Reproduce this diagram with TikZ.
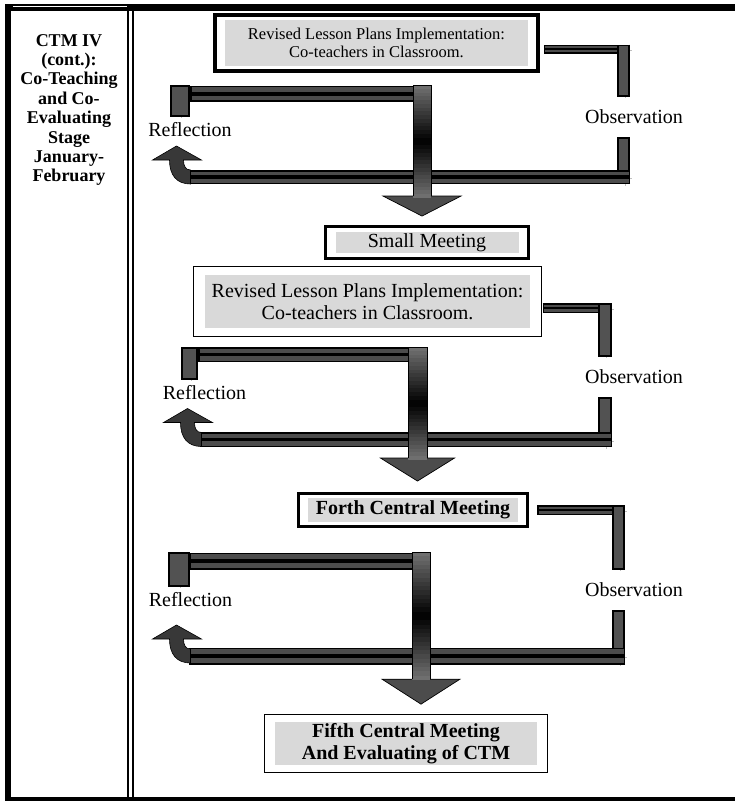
\documentclass[tikz,border=0pt]{standalone}
\usepackage{fontspec}
\setmainfont{Liberation Serif}
\usetikzlibrary{fit,calc,positioning}

\newcommand{\stagefont}{\fontsize{18}{19.4}\selectfont\bfseries}
\newcommand{\smallboxfont}{\fontsize{16.5}{18}\selectfont}
\newcommand{\boxfont}{\fontsize{20}{22.5}\selectfont}
% shaded shaft of the big down arrow: x, top y, bottom y, half width
\newcommand{\shaftstrips}[4]{%
  \foreach \i in {0,...,29} {
    \pgfmathsetmacro{\shadeval}{100-45*abs(2*(\i+0.5)/30-1)}
    \fill [black!\shadeval] ({#1-#4},{#2+(#3-#2)*\i/30}) rectangle ({#1+#4},{#2+(#3-#2)*(\i+1)/30+0.3});
  }}

\tikzset{
  greybox/.style={fill=black!15, inner sep=0pt, align=center},
  thickframe/.style={draw=black, line width=3.5pt},
  thinframe/.style={draw=black, line width=1.3pt},
  looplabel/.style={font=\boxfont, inner sep=0pt},
  tube/.style={draw=black, line width=#1pt,
    preaction={draw=black!25, transform canvas={shift={(1.5pt,-1.5pt)}}},
    postaction={draw=black!70, line width=#1pt-3pt, shorten <=1.5pt, shorten >=1.5pt},
    postaction={draw=black, line width=#1pt*0.25, shorten <=1.5pt, shorten >=1.5pt}},
  tubeV/.style={draw=black, line width=#1pt,
    preaction={draw=black!25, transform canvas={shift={(1.5pt,-1.5pt)}}},
    postaction={draw=black!68, line width=#1pt-4pt, shorten <=1.5pt, shorten >=1.5pt}},
  arrowhead/.style={fill=black!70, draw=black, line width=0.7pt},
  shaftline/.style={draw=black, line width=0.7pt},
  backarrow/.pic={
    \filldraw[fill=black!78, draw=black, line width=0.6pt]
      (-7,-17) .. controls (-7,-2) and (0,7) .. (14,7) -- (14,-7)
      .. controls (9,-7) and (7,-11) .. (7,-17) -- (25,-17) -- (0,-31)
      -- (-24,-17) -- cycle;
  }
}

\begin{document}
\begin{tikzpicture}[x=1pt,y=-1pt]
    \useasboundingbox (0,0) rectangle (735,801);
    % outer frame and stage column
    \fill (5,4) rectangle (735,11);
    \fill (5,4) rectangle (11,801);
    \fill (5,797) rectangle (735,801);
    \draw [white, line width=0.8pt] (13,6.8) -- (127,6.8);
    \draw [line width=2pt] (128,11) -- (128,797);
    \draw [line width=2pt] (133,11) -- (133,797);
    \node [font=\stagefont, align=center] (stage) at (69,110)
        {CTM IV\\(cont.):\\Co-Teaching\\and Co-\\Evaluating\\Stage\\January-\\February};

    % boxes
    \node [greybox, minimum width=303pt, minimum height=46pt, font=\smallboxfont] (impA) at (376.5,43)
        {Revised Lesson Plans Implementation:\\Co-teachers in Classroom.};
    \node [thickframe, fit=(impA), inner xsep=10pt, inner ysep=5pt] (impAf) {};
    \node [greybox, minimum width=183pt, minimum height=21pt, font=\boxfont] (small) at (427,242.5) {Small Meeting};
    \node [thickframe, fit=(small), inner xsep=10pt, inner ysep=5.5pt] (smallf) {};
    \node [greybox, minimum width=325pt, minimum height=53pt, font=\boxfont] (impB) at (367.5,301.5)
        {Revised Lesson Plans Implementation:\\Co-teachers in Classroom.};
    \node [thinframe, fit=(impB), inner xsep=11pt, inner ysep=8.5pt] (impBf) {};
    \node [greybox, minimum width=210pt, minimum height=24pt, font=\boxfont\bfseries] (forth) at (413,510) {Forth Central Meeting};
    \node [thickframe, fit=(forth), inner xsep=9.5pt, inner ysep=4.5pt] (forthf) {};
    \node [greybox, minimum width=262pt, minimum height=43pt, font=\boxfont\bfseries] (fifth) at (406,743.5)
        {Fifth Central Meeting\\And Evaluating of CTM};
    \node [thinframe, fit=(fifth), inner xsep=10pt, inner ysep=7.5pt] (fifthf) {};

    % labels
    \node [looplabel, minimum height=26pt] (refl1) at (190,130) {Reflection};
    \node [looplabel, minimum height=40pt] (obs1) at (634,117) {Observation};
    \node [looplabel, minimum height=26pt] (refl2) at (204.5,393) {Reflection};
    \node [looplabel, minimum height=40pt] (obs2) at (634,377) {Observation};
    \node [looplabel, minimum height=26pt] (refl3) at (190.5,600) {Reflection};
    \node [looplabel, minimum height=40pt] (obs3) at (634,590) {Observation};

    % first cycle
    \coordinate (r1) at (623.5,49);
    \coordinate (q1) at (623.5,177);
    \coordinate (u1) at (180,85);
    \coordinate (s1) at (422,85);
    \coordinate (k1) at (176.5,177);
    \coordinate (t1) at (s1 |- smallf.north);
    \draw [tube=9] ($(impAf.east |- r1)+(4,0)$) -- ($(r1)+(6.5,0)$);
    \draw [tubeV=13] ($(r1)+(0,-4.5)$) -- (r1 |- obs1.north);
    \draw [tubeV=13] (q1 |- obs1.south) -- ($(q1)+(0,7)$);
    \draw [tube=14] ($(q1)+(6.5,0)$) -- ($(k1)+(12,0)$);
    \draw [tubeV=20] (u1) -- (u1 |- refl1.north);
    \draw [tube=16] ($(u1)+(10,8.5)$) -- ($(s1)+(0,8.5)$);
    \filldraw [arrowhead] ($(t1)+(-39,-28.5)$) -- ($(t1)+(0,-8.5)$) -- ($(t1)+(39,-28.5)$) -- cycle;
    \shaftstrips{422}{85}{198}{9}
    \draw [shaftline] ($(t1)+(-9,-28.5)$) -- ($(s1)+(-9,0)$) -- ($(s1)+(9,0)$) -- ($(t1)+(9,-28.5)$);
    \pic at (k1) {backarrow};

    % second cycle
    \coordinate (r2) at (605,308);
    \coordinate (q2) at (605,439.5);
    \coordinate (u2) at (189.5,347);
    \coordinate (s2) at (417.5,347);
    \coordinate (k2) at (187.5,439.5);
    \coordinate (t2) at (s2 |- forthf.north);
    \draw [tube=10] ($(impBf.east |- r2)+(1,0)$) -- ($(r2)+(7,0)$);
    \draw [tubeV=14] ($(r2)+(0,-5)$) -- (r2 |- obs2.north);
    \draw [tubeV=14] (q2 |- obs2.south) -- ($(q2)+(0,7.5)$);
    \draw [tube=15] ($(q2)+(7,0)$) -- ($(k2)+(12,0)$);
    \draw [tubeV=17] (u2) -- (u2 |- refl2.north);
    \draw [tube=15] ($(u2)+(8.5,7.5)$) -- ($(s2)+(0,7.5)$);
    \filldraw [arrowhead] ($(t2)+(-37,-33.5)$) -- ($(t2)+(0,-10.5)$) -- ($(t2)+(37,-33.5)$) -- cycle;
    \shaftstrips{417.5}{347}{460}{9.5}
    \draw [shaftline] ($(t2)+(-9.5,-33.5)$) -- ($(s2)+(-9.5,0)$) -- ($(s2)+(9.5,0)$) -- ($(t2)+(9.5,-33.5)$);
    \pic at (k2) {backarrow};

    % third cycle
    \coordinate (r3) at (618.5,510);
    \coordinate (q3) at (618.5,656);
    \coordinate (u3) at (178.5,552);
    \coordinate (s3) at (421,552);
    \coordinate (k3) at (176.5,656);
    \coordinate (t3) at (s3 |- fifthf.north);
    \draw [tube=10] ($(forthf.east |- r3)+(8,0)$) -- ($(r3)+(6.5,0)$);
    \draw [tubeV=13] ($(r3)+(0,-5)$) -- (r3 |- obs3.north);
    \draw [tubeV=13] (q3 |- obs3.south) -- ($(q3)+(0,8.5)$);
    \draw [tube=17] ($(q3)+(6.5,0)$) -- ($(k3)+(12,0)$);
    \draw [tubeV=22] (u3) -- (u3 |- refl3.north);
    \draw [tube=17] ($(u3)+(11,9)$) -- ($(s3)+(0,9)$);
    \filldraw [arrowhead] ($(t3)+(-39,-34.5)$) -- ($(t3)+(0,-9.5)$) -- ($(t3)+(39,-34.5)$) -- cycle;
    \shaftstrips{421}{552}{680}{9}
    \draw [shaftline] ($(t3)+(-9,-34.5)$) -- ($(s3)+(-9,0)$) -- ($(s3)+(9,0)$) -- ($(t3)+(9,-34.5)$);
    \pic at (k3) {backarrow};
\end{tikzpicture}
\end{document}
